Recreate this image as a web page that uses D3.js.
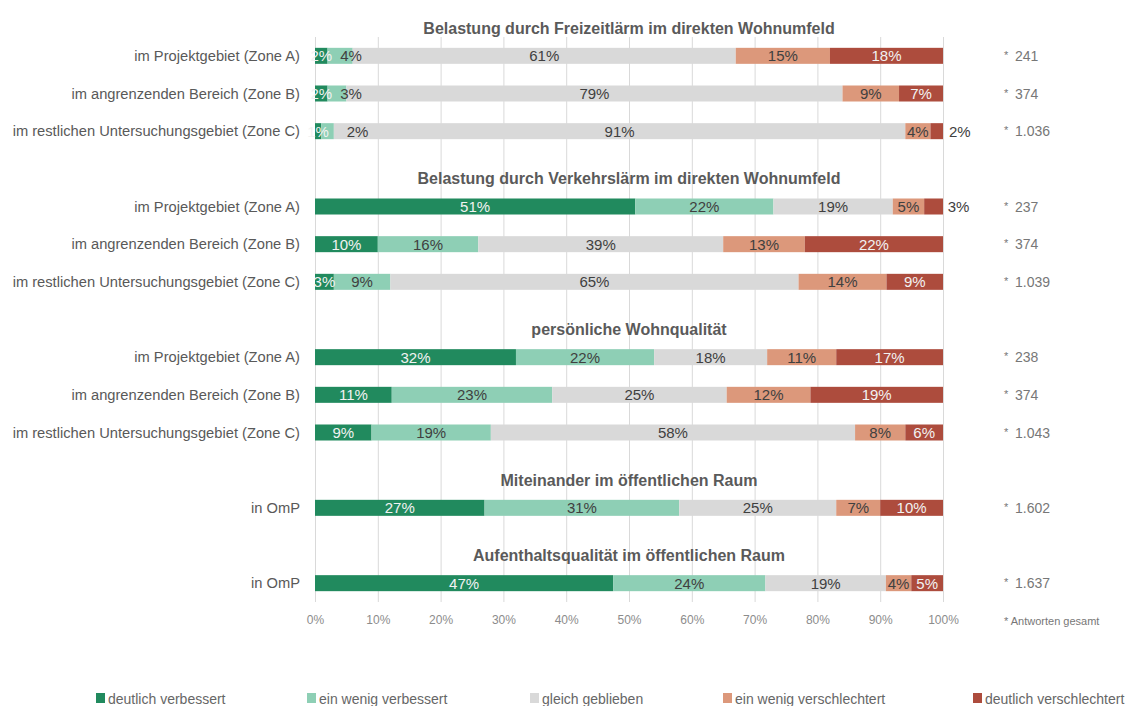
<!DOCTYPE html>
<html>
<head>
<meta charset="utf-8">
<script src="https://cdn.jsdelivr.net/npm/d3@7"></script>
<style>
  body { margin: 0; background: #fff; }
  svg { font-family: "Liberation Sans", Arial, sans-serif; }
  .grid line { stroke: #d9d9d9; }
  .grid text { fill: #8c8c8c; font-size: 12px; }
</style>
</head>
<body>
<div id="chart"></div>
<script>
// group headings and row labels
const groupTitles = [
  "Belastung durch Freizeitlärm im direkten Wohnumfeld",
  "Belastung durch Verkehrslärm im direkten Wohnumfeld",
  "persönliche Wohnqualität",
  "Miteinander im öffentlichen Raum",
  "Aufenthaltsqualität im öffentlichen Raum"
];
const rowLabels = [
  "im Projektgebiet (Zone A)", "im angrenzenden Bereich (Zone B)", "im restlichen Untersuchungsgebiet (Zone C)",
  "im Projektgebiet (Zone A)", "im angrenzenden Bereich (Zone B)", "im restlichen Untersuchungsgebiet (Zone C)",
  "im Projektgebiet (Zone A)", "im angrenzenden Bereich (Zone B)", "im restlichen Untersuchungsgebiet (Zone C)",
  "in OmP",
  "in OmP"
];
const rowGroup = [0, 0, 0, 1, 1, 1, 2, 2, 2, 3, 4];

// answers in percent
const seriesNames = ["deutlich verbessert", "ein wenig verbessert", "gleich geblieben", "ein wenig verschlechtert", "deutlich verschlechtert"];
const deutlichVerbessert     = [2, 2, 1, 51, 10, 3, 32, 11, 9, 27, 47];
const wenigVerbessert        = [4, 3, 2, 22, 16, 9, 22, 23, 19, 31, 24];
const gleichGeblieben        = [61, 79, 91, 19, 39, 65, 18, 25, 58, 25, 19];
const wenigVerschlechtert    = [15, 9, 4, 5, 13, 14, 11, 12, 8, 7, 4];
const deutlichVerschlechtert = [18, 7, 2, 3, 22, 9, 17, 19, 6, 10, 5];
const answerCounts = ["241", "374", "1.036", "237", "374", "1.039", "238", "374", "1.043", "1.602", "1.637"];
const xTicks = [0, 0.1, 0.2, 0.3, 0.4, 0.5, 0.6, 0.7, 0.8, 0.9, 1];

const colors = ["#218a5e", "#8ecfb5", "#d9d9d9", "#dc987b", "#ad4c3d"];
const labelColors = ["#f2f2f2", "#404040", "#404040", "#404040", "#f2f2f2"];
// hand-moved labels of tiny segments, "row-series": dx in px
const labelShift = { "0-1": 11, "1-1": 14, "2-1": 30, "2-4": 23, "3-4": 25 };
const legendX = [96, 307, 530, 723, 973];

const width = 1126, height = 706;
const svg = d3.select("#chart").append("svg")
    .attr("width", width)
    .attr("height", height);

// band slots: rows plus an empty slot between groups
let slots = [];
rowLabels.forEach(function(d, i) {
  if (i > 0 && rowGroup[i] !== rowGroup[i - 1]) slots.push("gap" + i);
  slots.push("row" + i);
});

let x = d3.scaleLinear().domain([0, 1]).range([315, 943]),
    y = d3.scaleBand().domain(slots).range([37, 602])
          .paddingInner(0.575).paddingOuter(0.2875);

let rows = rowLabels.map(function(d, i) {
  return {
    i: i,
    s0: deutlichVerbessert[i], s1: wenigVerbessert[i], s2: gleichGeblieben[i],
    s3: wenigVerschlechtert[i], s4: deutlichVerschlechtert[i]
  };
});
let keys = ["s0", "s1", "s2", "s3", "s4"];
let stacked = d3.stack().keys(keys).offset(d3.stackOffsetExpand)(rows);

// gridlines + percent axis
svg.append("g")
    .attr("class", "grid")
    .attr("transform", "translate(0,602)")
    .call(d3.axisBottom(x)
        .tickValues(xTicks)
        .tickSize(-565)
        .tickPadding(13)
        .tickFormat(d3.format(".0%")))
    .call(function(g) { g.select(".domain").remove(); });

let layer = svg.selectAll(".layer")
    .data(stacked)
    .enter().append("g")
    .attr("class", "layer")
    .attr("fill", function(d, k) { return colors[k]; });

layer.selectAll("rect")
    .data(function(d) { return d; })
    .enter().append("rect")
    .attr("x", function(d) { return x(d[0]); })
    .attr("y", function(d) { return y("row" + d.data.i); })
    .attr("width", function(d) { return x(d[1]) - x(d[0]); })
    .attr("height", y.bandwidth());

// value labels, drawn after all bars so nothing covers them
let labelLayer = svg.selectAll(".labels")
    .data(stacked)
    .enter().append("g")
    .attr("class", "labels");

labelLayer.each(function(s, k) {
  d3.select(this).selectAll("text")
    .data(s)
    .enter().append("text")
    .attr("x", function(d) {
      let dx = labelShift[d.data.i + "-" + k] || 0;
      return (x(d[0]) + x(d[1])) / 2 + dx;
    })
    .attr("y", function(d) { return y("row" + d.data.i) + y.bandwidth() / 2; })
    .attr("dy", "0.36em")
    .attr("text-anchor", "middle")
    .style("font-size", "15px")
    .style("fill", function(d) {
      return labelShift[d.data.i + "-" + k] > 20 ? "#404040" : labelColors[k];
    })
    .text(function(d) { return d.data[keys[k]] + "%"; });
});

// row labels on the left
svg.append("g").selectAll("text")
    .data(rowLabels)
    .enter().append("text")
    .attr("x", 300)
    .attr("y", function(d, i) { return y("row" + i) + y.bandwidth() / 2; })
    .attr("dy", "0.36em")
    .attr("text-anchor", "end")
    .style("font-size", "14.7px")
    .style("fill", "#595959")
    .text(function(d) { return d; });

// group titles above first row of each group
svg.append("g").selectAll("text")
    .data(groupTitles)
    .enter().append("text")
    .attr("x", 629)
    .attr("y", function(d, gi) {
      let first = rowGroup.indexOf(gi);
      return y("row" + first) + y.bandwidth() / 2 - 28;
    })
    .attr("dy", "0.36em")
    .attr("text-anchor", "middle")
    .style("font-size", "16px")
    .style("font-weight", "bold")
    .style("fill", "#5a5a5a")
    .text(function(d) { return d; });

// answer counts on the right
let counts = svg.append("g").selectAll("g")
    .data(answerCounts)
    .enter().append("g")
    .attr("transform", function(d, i) {
      return "translate(1004," + (y("row" + i) + y.bandwidth() / 2) + ")";
    });
counts.append("text")
    .attr("y", 3)
    .style("font-size", "11px")
    .style("fill", "#777")
    .text("*");
counts.append("text")
    .attr("x", 11)
    .attr("dy", "0.36em")
    .style("font-size", "14px")
    .style("fill", "#777")
    .text(function(d) { return d; });

svg.append("text")
    .attr("x", 1004)
    .attr("y", 621)
    .attr("dy", "0.36em")
    .style("font-size", "11px")
    .style("fill", "#777")
    .text("* Antworten gesamt");

// legend
let legend = svg.append("g").selectAll("g")
    .data(seriesNames)
    .enter().append("g")
    .attr("transform", function(d, k) { return "translate(" + legendX[k] + ",693)"; });

legend.append("rect")
    .attr("width", 9)
    .attr("height", 10)
    .attr("fill", function(d, k) { return colors[k]; });

legend.append("text")
    .attr("x", 12)
    .attr("y", 11)
    .style("font-size", "14px")
    .style("fill", "#666")
    .text(function(d) { return d; });
</script>
</body>
</html>
